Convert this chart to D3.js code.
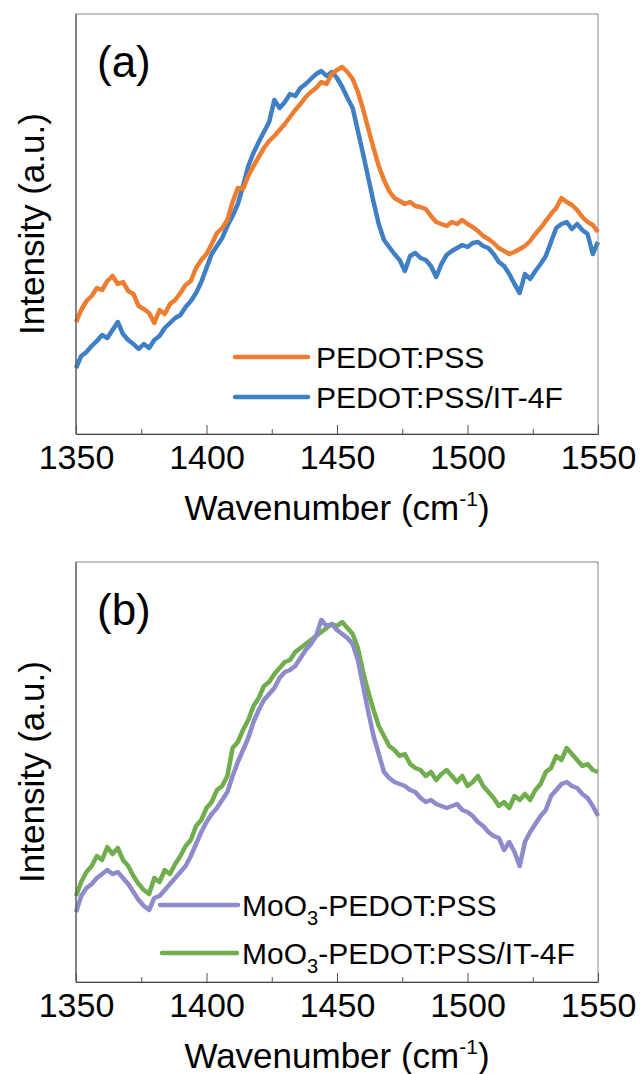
<!DOCTYPE html>
<html>
<head>
<meta charset="utf-8">
<script src="https://cdn.jsdelivr.net/npm/d3@7"></script>
<style>
  body { margin: 0; background: #fff; }
  svg { display: block; font-family: "Liberation Sans", Arial, sans-serif; }
</style>
</head>
<body>
<div id="chart"></div>
<script>
// sampling grid of the spectra (cm-1), every 2 cm-1
const wavenumber = d3.range(1350, 1551, 2);

const majorTicks = [1350, 1400, 1450, 1500, 1550];
const minorTicks = [1375, 1425, 1475, 1525];

// panel (a), arbitrary units
const pedotPss = [
  112, 124, 133, 138, 146, 144, 153, 158, 150, 152, 143, 140, 128, 125, 121, 111, 124, 120, 130, 134,
  141, 149, 153, 166, 174, 180, 190, 201, 206, 214, 232, 246, 245, 258, 268, 277, 286, 293, 298, 304,
  310, 317, 324, 330, 337, 342, 346, 352, 350, 360, 364, 367, 362, 355, 342, 325, 305, 286, 268, 254,
  243, 236, 233, 230, 232, 228, 227, 225, 218, 212, 210, 208, 212, 210, 214, 210, 207, 203, 198, 195,
  191, 186, 183, 180, 182, 185, 188, 193, 200, 206, 213, 220, 226, 236, 232, 229, 224, 217, 212, 209,
  202
];
const pedotPssIt4f = [
  66, 78, 82, 88, 93, 99, 96, 104, 112, 100, 94, 90, 85, 90, 86, 94, 98, 106, 111, 116,
  119, 127, 133, 141, 152, 166, 180, 188, 196, 208, 218, 230, 248, 268, 281, 292, 302, 312, 334, 326,
  332, 340, 338, 346, 350, 355, 360, 363, 358, 362, 356, 347, 336, 326, 303, 280, 256, 232, 210, 194,
  187, 180, 174, 163, 178, 181, 176, 174, 168, 157, 170, 179, 183, 186, 189, 187, 191, 192, 188, 186,
  180, 172, 168, 160, 150, 141, 160, 155, 163, 170, 178, 192, 206, 210, 212, 205, 210, 204, 200, 180,
  192
];

// panel (b), arbitrary units
const moo3Pedot = [
  70, 86, 94, 98, 104, 108, 112, 108, 110, 104, 98, 90, 82, 76, 72, 84, 86, 92, 98, 104,
  110, 116, 126, 138, 150, 160, 168, 174, 182, 190, 206, 220, 232, 244, 260, 272, 282, 288, 294, 304,
  310, 312, 316, 324, 332, 338, 346, 362, 356, 358, 352, 348, 344, 338, 322, 296, 270, 246, 228, 210,
  204, 200, 198, 196, 192, 190, 184, 180, 182, 178, 176, 174, 176, 178, 172, 170, 166, 160, 156, 150,
  146, 144, 132, 140, 130, 116, 140, 150, 158, 166, 172, 186, 192, 198, 200, 196, 194, 188, 184, 176,
  166
];
const moo3PedotIt4f = [
  86, 100, 110, 116, 126, 122, 135, 128, 134, 122, 116, 106, 98, 92, 88, 104, 100, 112, 108, 118,
  126, 136, 142, 156, 162, 174, 180, 192, 196, 206, 234, 240, 252, 262, 276, 284, 296, 300, 308, 314,
  320, 322, 330, 334, 338, 342, 346, 350, 354, 358, 356, 360, 354, 348, 334, 310, 290, 272, 256, 246,
  236, 232, 226, 228, 218, 214, 212, 206, 210, 202, 208, 212, 206, 200, 206, 196, 200, 206, 196, 190,
  184, 176, 180, 174, 186, 182, 188, 182, 192, 198, 210, 214, 226, 222, 234, 228, 222, 216, 218, 212,
  210
];

document.addEventListener('DOMContentLoaded', function() {
    const width = 522, height = 420;

    const x = d3.scaleLinear().domain([1350, 1550]).range([0, width]);
    const y = d3.scaleLinear().domain([0, 420]).range([height, 0]);

    const line = d3.line()
        .x(d => x(d.wn))
        .y(d => y(d.value));

    const svg = d3.select("#chart").append("svg")
        .attr("width", 642)
        .attr("height", 1074);

    const panels = [
        {
            label: "(a)", top: 14,
            series: [
                { name: ["PEDOT:PSS"], values: pedotPss, color: "#ed7d31", ly: 343, lx0: 159, lx1: 232 },
                { name: ["PEDOT:PSS/IT-4F"], values: pedotPssIt4f, color: "#3f80c5", ly: 383, lx0: 159, lx1: 232 }
            ],
            textX: 240
        },
        {
            label: "(b)", top: 562,
            series: [
                { name: ["MoO", "3", "-PEDOT:PSS"], values: moo3Pedot, color: "#8d8bc9", ly: 343, lx0: 84, lx1: 162 },
                { name: ["MoO", "3", "-PEDOT:PSS/IT-4F"], values: moo3PedotIt4f, color: "#70ad4c", ly: 391, lx0: 86, lx1: 161 }
            ],
            textX: 166
        }
    ];

    panels.forEach(p => {
        const g = svg.append("g")
            .attr("transform", `translate(76,${p.top})`);

        // draw later series first so the first one sits on top like the original
        p.series.slice().reverse().forEach(s => {
            g.append("path")
                .datum(wavenumber.map((wn, i) => ({ wn: wn, value: s.values[i] })))
                .attr("d", line)
                .attr("fill", "none")
                .attr("stroke", s.color)
                .attr("stroke-width", 4.5)
                .attr("stroke-linejoin", "round");
        });

        // frame
        g.append("rect")
            .attr("width", width)
            .attr("height", height)
            .attr("fill", "none")
            .attr("stroke", "#8a8a8a")
            .attr("stroke-width", 1);
        g.append("line")
            .attr("x1", 0).attr("x2", 0)
            .attr("y1", 0).attr("y2", height)
            .attr("stroke", "#444");

        const ax = g.append("g")
            .attr("transform", `translate(0,${height})`)
            .call(d3.axisBottom(x).tickValues(majorTicks).tickSize(-9).tickPadding(11).tickFormat(d3.format("d")));
        ax.select(".domain").attr("stroke", "#444");
        ax.selectAll(".tick line").attr("stroke", "#555");
        ax.selectAll("text")
            .attr("fill", "#000")
            .style("font-size", "34px");

        const mx = g.append("g")
            .attr("transform", `translate(0,${height})`)
            .call(d3.axisBottom(x).tickValues(minorTicks).tickSize(-5).tickFormat(""));
        mx.select(".domain").remove();
        mx.selectAll(".tick line").attr("stroke", "#555");

        g.append("text")
            .attr("x", 21)
            .attr("y", 63)
            .style("font-size", "44px")
            .text(p.label);

        const title = g.append("text")
            .attr("x", width / 2)
            .attr("y", height + 86)
            .attr("text-anchor", "middle")
            .style("font-size", "35px")
            .text("Wavenumber (cm");
        title.append("tspan").attr("dy", -14).style("font-size", "21px").text("-1");
        title.append("tspan").attr("dy", 14).text(")");

        g.append("text")
            .attr("transform", `translate(-44,${height / 2}) rotate(-90)`)
            .attr("text-anchor", "middle")
            .attr("dy", "0.35em")
            .style("font-size", "35px")
            .text("Intensity (a.u.)");

        // legend
        p.series.forEach(s => {
            g.append("line")
                .attr("x1", s.lx0).attr("x2", s.lx1)
                .attr("y1", s.ly).attr("y2", s.ly)
                .attr("stroke", s.color)
                .attr("stroke-width", 4.5)
                .attr("stroke-linecap", "round");
            const t = g.append("text")
                .attr("x", p.textX)
                .attr("y", s.ly + 11)
                .style("font-size", "30px");
            if (s.name.length === 1) {
                t.text(s.name[0]);
            } else {
                t.append("tspan").text(s.name[0]);
                t.append("tspan").attr("dy", 9).style("font-size", "20px").text(s.name[1]);
                t.append("tspan").attr("dy", -9).text(s.name[2]);
            }
        });
    });
});
</script>
</body>
</html>
